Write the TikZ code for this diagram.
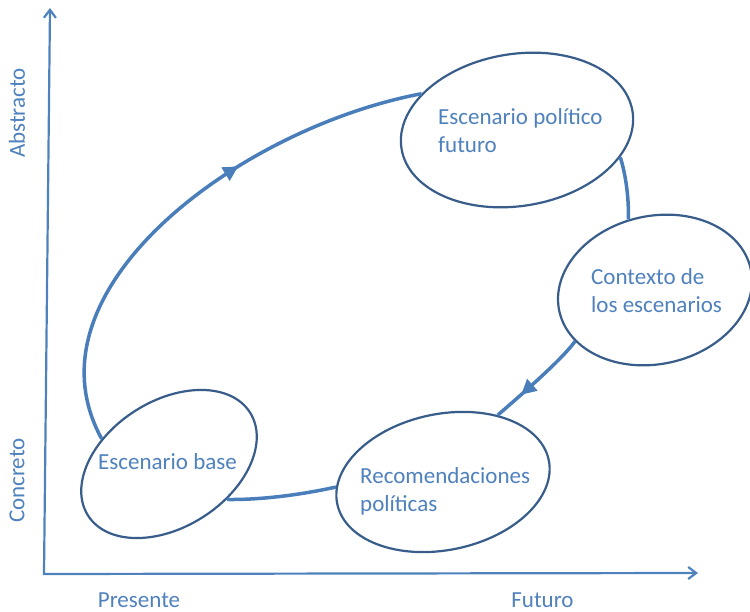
\documentclass[tikz,border=0pt]{standalone}
\usepackage{fontspec}
\setmainfont{Carlito}
\usetikzlibrary{arrows.meta,decorations.markings,shapes.geometric}
\definecolor{linkblue}{HTML}{4A7EBB}
\definecolor{edgeblue}{HTML}{385D8A}
\definecolor{textblue}{HTML}{4F81BD}
\begin{document}
\begin{tikzpicture}[x=1pt,y=-1pt,
  font={\fontsize{23}{28.5}\selectfont},
  bubble/.style={ellipse,draw=edgeblue,line width=2.2pt,fill=white,inner sep=0pt},
  txt/.style={text=textblue,inner sep=0pt,align=left,anchor=base west},
  axlabel/.style={text=textblue,inner sep=0pt},
  link/.style={color=linkblue,line width=3.5pt},
  axis/.style={draw=textblue,line width=2.2pt,line join=miter,{Straight Barb[length=8pt,width=12pt]}-{Straight Barb[length=8pt,width=12pt]}},
  midarrow/.style={postaction={decorate,decoration={markings,mark=at position #1 with {\arrow{Triangle[length=15pt,width=15pt]}}}}}
]
\useasboundingbox (0,0) rectangle (750,612);
% axes
\coordinate (o) at (44,574);
\coordinate (ytop) at (50,8);
\coordinate (xend) at (698,573);
\draw[axis] (ytop) -- (o) -- (xend);
\node[axlabel,rotate=90] (abs) at (17,113) {Abstracto};
\node[axlabel,rotate=90] (con) at (17,480.5) {Concreto};
\node[axlabel,anchor=base] (pre) at (139,607.5) {Presente};
\node[axlabel,anchor=base] (fut) at (542.5,607.5) {Futuro};
% ellipses
\node[bubble,minimum width=234pt,minimum height=152pt,rotate=9.2] (e1) at (517,130) {};
\node[bubble,minimum width=196pt,minimum height=148pt,rotate=12.7] (e2) at (655,290) {};
\node[bubble,minimum width=216pt,minimum height=136pt,rotate=11.7] (e3) at (443,482) {};
\node[bubble,minimum width=192pt,minimum height=126pt,rotate=32.5] (e4) at (169,464) {};
% connectors
\draw[link,midarrow=0.63] (e4.127) .. controls (20,290) and (240,128) .. (e1.150.7);
\draw[link] (e1.336.2) .. controls (625,172) and (629,195) .. (e2.98.5);
\draw[link,midarrow=0.71] (e2.200.3) .. controls (561,361) and (515,400) .. (e3.39.8);
\draw[link] (e3.171.5) .. controls (300,495) and (260,500) .. (e4.296);
% texts (anchored at the baseline of their last line)
\node[txt] (t1) at (438,152.7) {Escenario político\\futuro};
\node[txt] (t2) at (591,312.7) {Contexto de\\los escenarios};
\node[txt] (t3) at (360,511.7) {Recomendaciones\\políticas};
\node[txt] (t4) at (98,469) {Escenario base};
\end{tikzpicture}
\end{document}
